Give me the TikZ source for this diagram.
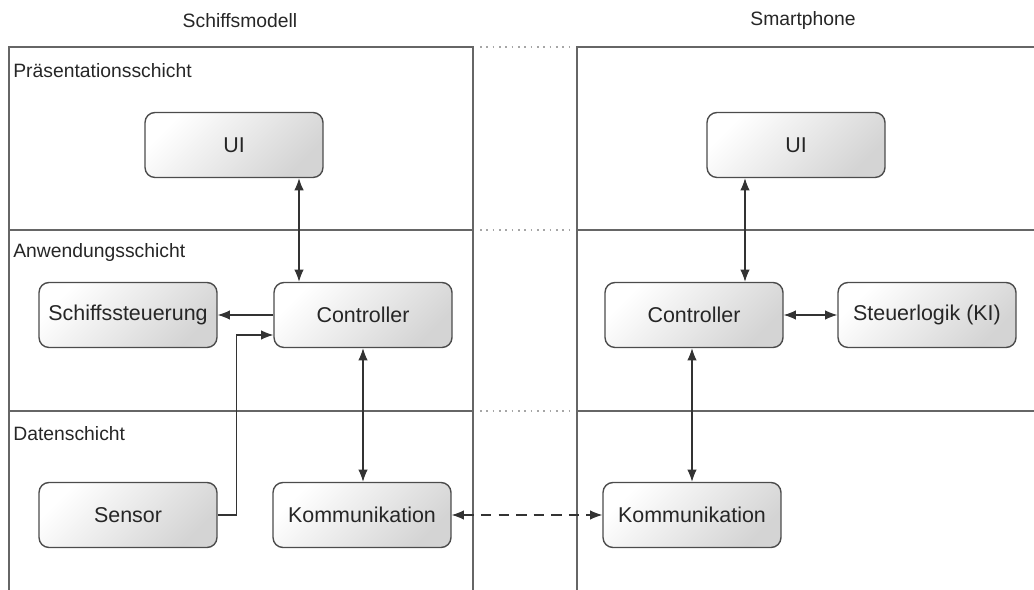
\documentclass[tikz,border=0pt]{standalone}
\usepackage{fontspec}
\setsansfont{Liberation Sans}
\usetikzlibrary{arrows.meta, calc}
\tikzset{
  baustein/.style={rectangle, rounded corners=0.2cm, minimum width=3.56cm, minimum height=1.3cm, text centered, draw=black!70, line width=0.8pt, top color=white, bottom color=black!17, shading angle=45, font=\sffamily\fontsize{12.2}{14}\selectfont, text=black!85},
  schicht/.style={draw=black!60, line width=1.1pt},
  trenner/.style={draw=black!35, line width=1pt, dash pattern=on 1pt off 2.6pt},
  titel/.style={inner sep=0pt, font=\sffamily\fontsize{11}{13}\selectfont, text=black!85},
  pfeil/.style={draw=black!80, line width=0.7pt, -{Latex[length=7pt,width=5.5pt]}},
  dpfeil/.style={draw=black!80, line width=0.7pt, {Latex[length=7pt,width=5.5pt]}-{Latex[length=7pt,width=5.5pt]}}
}

\begin{document}
\begin{tikzpicture}[x=0.02cm, y=-0.02cm]
    \useasboundingbox (0,0) rectangle (1034,590);

    % 1. Rahmen der beiden Seiten
    \draw[schicht] (9,590) -- (9,47) -- (473,47) -- (473,590);
    \draw[schicht] (1034,47) -- (577,47) -- (577,590);
    \foreach \y in {230,411} {
        \draw[schicht] (9,\y) -- (473,\y);
        \draw[schicht] (577,\y) -- (1034,\y);
    }
    % gepunktete Verbindung zwischen den Schichten
    \foreach \y in {47,230,411}
        \draw[trenner] (480,\y) -- (573,\y);

    % 2. Überschriften und Schichtnamen
    \node[titel] (kopfL) at (240,21) {Schiffsmodell};
    \node[titel] (kopfR) at (803,21) {Smartphone};
    \node[titel, anchor=west] (praes) at (13,71) {Präsentationsschicht};
    \node[titel, anchor=west] (anw) at (13,253) {Anwendungsschicht};
    \node[titel, anchor=west] (daten) at (13,434) {Datenschicht};

    % 3. Bausteine Schiffsmodell
    \node[baustein] (uiL) at (234,145) {UI};
    \node[baustein] (ctrlL) at (363,315) {Controller};
    \node[baustein] (steuer) at (128,315) {Schiffssteuerung};
    \node[baustein] (sensor) at (128,515) {Sensor};
    \node[baustein] (kommL) at (362,515) {Kommunikation};

    % 4. Bausteine Smartphone
    \node[baustein] (uiR) at (796,145) {UI};
    \node[baustein] (ctrlR) at (694,315) {Controller};
    \node[baustein] (ki) at (927,315) {Steuerlogik (KI)};
    \node[baustein] (kommR) at (692,515) {Kommunikation};

    % 5. Verbindungen Schiffsmodell
    \draw[dpfeil] ([xshift=-1.28cm]ctrlL.north) -- ([xshift=-1.28cm]ctrlL.north |- uiL.south);
    \draw[pfeil] (ctrlL.west) -- (steuer.east);
    \draw[pfeil] (sensor.east) -- ++(19,0) |- ([yshift=-0.4cm]ctrlL.west);
    \draw[dpfeil] (ctrlL.south) -- (ctrlL.south |- kommL.north);

    % 6. Verbindungen Smartphone
    \draw[dpfeil] ([xshift=1.02cm]ctrlR.north) -- ([xshift=1.02cm]ctrlR.north |- uiR.south);
    \draw[dpfeil] (ctrlR.east) -- (ki.west);
    \draw[dpfeil] (kommR.north) -- (kommR.north |- ctrlR.south);

    % 7. Funkverbindung
    \draw[dpfeil, dash pattern=on 6pt off 4pt] (kommL.east) -- (kommR.west);

\end{tikzpicture}
\end{document}
